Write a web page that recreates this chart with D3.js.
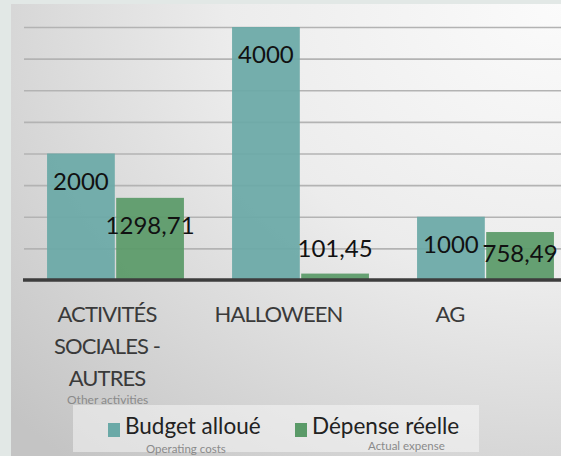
<!DOCTYPE html>
<html>
<head>
<meta charset="utf-8">
<script src="https://cdn.jsdelivr.net/npm/d3@7"></script>
<style>
  html, body { margin: 0; padding: 0; background: #e2e8e6; }
  svg { display: block; font-family: Lato, "Open Sans", sans-serif; }
</style>
</head>
<body>
<svg id="chart" width="561" height="456"></svg>
<script>
const categories = ["ACTIVITÉS SOCIALES - AUTRES", "HALLOWEEN", "AG"];
const categoryLines = [["ACTIVITÉS", "SOCIALES -", "AUTRES"], ["HALLOWEEN"], ["AG"]];
const series = ["Budget alloué", "Dépense réelle"];
const budgetValues = [2000, 4000, 1000];
const expenseValues = [1298.71, 101.45, 758.49];
const valueLabels = [["2000", "1298,71"], ["4000", "101,45"], ["1000", "758,49"]];
const seriesColors = ["#6aa9a7", "#5a9a68"];
const seriesNotes = ["Operating costs", "Actual expense"];
const categoryNote = "Other activities";
const yTicks = [0, 500, 1000, 1500, 2000, 2500, 3000, 3500, 4000];

const svg = d3.select("#chart");
const W = 561, H = 456;

// background panel with gradient
const defs = svg.append("defs");
const grad = defs.append("radialGradient").attr("id", "bg")
  .attr("cx", "1").attr("cy", "0").attr("r", "1.35");
grad.append("stop").attr("offset", "0").attr("stop-color", "#fbfbfb");
grad.append("stop").attr("offset", "0.45").attr("stop-color", "#ececec");
grad.append("stop").attr("offset", "1").attr("stop-color", "#c4c4c4");
svg.append("rect").attr("x", 11).attr("y", 4).attr("width", W - 11).attr("height", H - 4)
  .attr("fill", "url(#bg)");

const y = d3.scaleLinear().domain([0, 4000]).range([280, 27]);
const x0 = d3.scaleBand().domain(categories).range([23, 578]).paddingInner(0.26).paddingOuter(0.13);
const x1 = d3.scaleBand().domain(series).range([0, x0.bandwidth()]).paddingInner(0.02);
const labelX = d3.scalePoint().domain(categories).range([107, 450]);

// gridlines via axis
const grid = svg.append("g").attr("transform", "translate(24,0)")
  .call(d3.axisRight(y).tickValues(yTicks.slice(1)).tickSize(W - 24).tickFormat(""));
grid.select(".domain").remove();
grid.selectAll("line").attr("stroke", "#b3b3b3").attr("stroke-width", 1.6);

const data = categories.map((c, i) => ({ cat: c, vals: [budgetValues[i], expenseValues[i]], labels: valueLabels[i] }));

const groups = svg.append("g").selectAll("g").data(data).join("g")
  .attr("transform", d => `translate(${x0(d.cat)},0)`);

groups.selectAll("rect").data(d => d.vals.map((v, j) => ({ s: series[j], v, j }))).join("rect")
  .attr("x", d => x1(d.s))
  .attr("y", d => y(d.v))
  .attr("width", x1.bandwidth())
  .attr("height", d => y(0) - y(d.v))
  .attr("fill", d => seriesColors[d.j])
  .attr("fill-opacity", 0.93);

groups.selectAll("text").data(d => d.vals.map((v, j) => ({ s: series[j], v, j, t: d.labels[j] }))).join("text")
  .attr("x", d => x1(d.s) + x1.bandwidth() / 2)
  .attr("y", d => {
    const top = y(d.v), h = y(0) - top;
    if (h < 30) return top - 17;
    return Math.min(top + 36, y(0) - 18);
  })
  .attr("text-anchor", "middle")
  .attr("font-size", 24)
  .attr("fill", "#111")
  .text(d => d.t);

// baseline axis
const xAxis = svg.append("g").attr("transform", `translate(0,${y(0)})`)
  .call(d3.axisBottom(x0).tickSize(0).tickFormat(""));
xAxis.select(".domain").attr("stroke", "#3d3d3d").attr("stroke-width", 3.5)
  .attr("d", `M23,0H${W}`);

// category labels
const catG = svg.append("g");
categories.forEach((c, i) => {
  const t = catG.append("text").attr("text-anchor", "middle").attr("font-size", 22)
    .attr("letter-spacing", -0.9).attr("fill", "#3a3a3a");
  categoryLines[i].forEach((line, k) => {
    t.append("tspan").attr("x", labelX(c)).attr("y", 322 + k * 32).text(line);
  });
});
svg.append("text").attr("x", 67).attr("y", 404).attr("font-size", 12).attr("fill", "#8a8a8a")
  .text(categoryNote);

// legend
svg.append("rect").attr("x", 73).attr("y", 405).attr("width", 406).attr("height", 47)
  .attr("fill", "#ffffff").attr("fill-opacity", 0.45);
const legendX = [108, 295];
series.forEach((s, j) => {
  svg.append("rect").attr("x", legendX[j]).attr("y", 423).attr("width", 12).attr("height", 14)
    .attr("fill", seriesColors[j]);
  svg.append("text").attr("x", legendX[j] + 17).attr("y", 434).attr("font-size", 22.5).attr("fill", "#222")
    .text(s);
});
svg.append("text").attr("x", 146).attr("y", 453).attr("font-size", 11.5).attr("fill", "#8a8a8a").text(seriesNotes[0]);
svg.append("text").attr("x", 368).attr("y", 450).attr("font-size", 11.5).attr("fill", "#8a8a8a").text(seriesNotes[1]);
</script>
</body>
</html>
